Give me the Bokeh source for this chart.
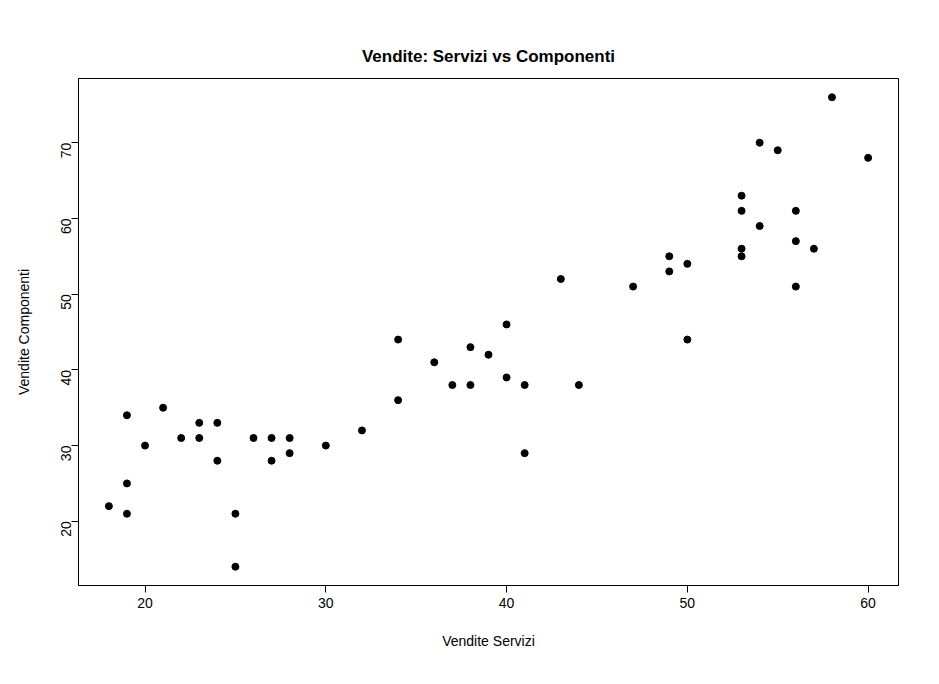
from bokeh.plotting import figure
from bokeh.embed import file_html
from bokeh.resources import INLINE
from bokeh.models import FixedTicker
from math import pi

servizi = [18, 19, 19, 19, 20, 21, 22, 23, 23, 24, 24, 25, 25, 26, 27, 27, 28, 28, 30, 32,
           34, 34, 36, 37, 38, 38, 39, 40, 40, 41, 41, 43, 44, 47, 49, 49, 50, 50,
           53, 53, 53, 53, 54, 54, 55, 56, 56, 56, 57, 58, 60]
componenti = [22, 34, 25, 21, 30, 35, 31, 33, 31, 33, 28, 21, 14, 31, 31, 28, 31, 29, 30, 32,
              44, 36, 41, 38, 43, 38, 42, 46, 39, 38, 29, 52, 38, 51, 55, 53, 54, 44,
              63, 61, 56, 55, 70, 59, 69, 61, 57, 51, 56, 76, 68]
x_ticks = [20, 30, 40, 50, 60]
y_ticks = [20, 30, 40, 50, 60, 70]

FONT = "Liberation Sans"

p = figure(width=923, height=668, output_backend="svg", toolbar_location=None,
           x_range=(16.32, 61.68), y_range=(11.52, 78.48),
           min_border_left=78, min_border_right=25, min_border_top=78, min_border_bottom=83)
p.title.text = "Vendite: Servizi vs Componenti"
p.title.align = "center"
p.title.text_font = FONT
p.title.text_font_size = "17px"
p.title.text_font_style = "bold"
p.title.text_color = "black"
p.title.offset = 0
p.title.standoff = 25

p.grid.visible = False
p.outline_line_color = "black"
p.outline_line_alpha = 1

p.xaxis.ticker = FixedTicker(ticks=x_ticks)
p.yaxis.ticker = FixedTicker(ticks=y_ticks)
p.xaxis.axis_label = "Vendite Servizi"
p.yaxis.axis_label = "Vendite Componenti"
p.yaxis.major_label_orientation = pi / 2
for ax in (p.xaxis, p.yaxis):
    ax.axis_line_color = "black"
    ax.minor_tick_line_color = None
    ax.major_tick_out = 7
    ax.major_tick_in = 0
    ax.major_tick_line_color = "black"
    ax.major_label_text_font = FONT
    ax.major_label_text_font_size = "14px"
    ax.major_label_text_color = "black"
    ax.axis_label_text_font = FONT
    ax.axis_label_text_font_size = "14px"
    ax.axis_label_text_font_style = "normal"
    ax.axis_label_text_color = "black"
p.xaxis.axis_label_standoff = 22
p.yaxis.axis_label_standoff = 22

p.scatter(servizi, componenti, size=7, color="black")

open("out.html", "w").write(file_html(p, INLINE))
